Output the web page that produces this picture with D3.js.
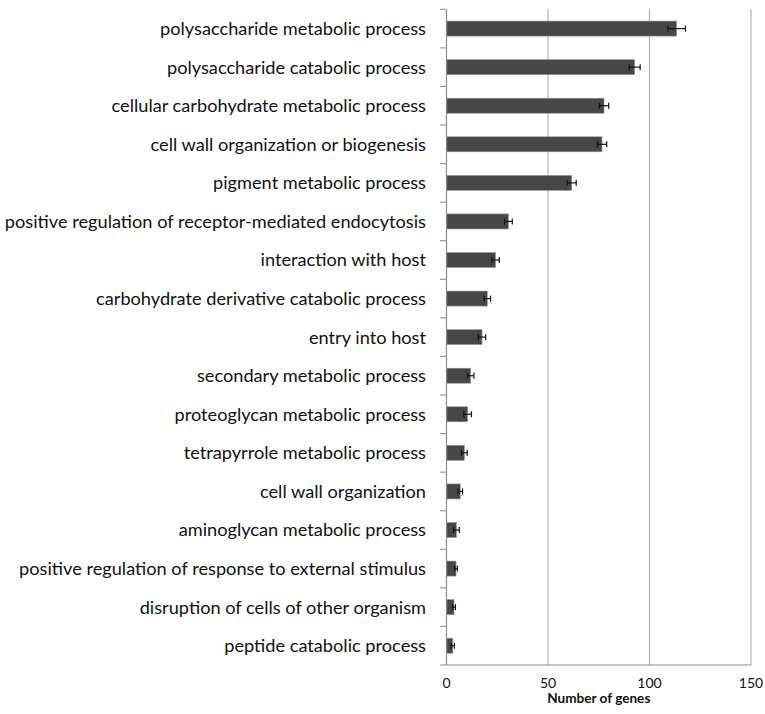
<!DOCTYPE html>
<html><head><meta charset="utf-8">
<script src="https://cdn.jsdelivr.net/npm/d3@7/dist/d3.min.js"></script>
<style>body{margin:0;background:#fff}</style>
</head><body>
<script>
const categories = [
  "polysaccharide metabolic process",
  "polysaccharide catabolic process",
  "cellular carbohydrate metabolic process",
  "cell wall organization or biogenesis",
  "pigment metabolic process",
  "positive regulation of receptor-mediated endocytosis",
  "interaction with host",
  "carbohydrate derivative catabolic process",
  "entry into host",
  "secondary metabolic process",
  "proteoglycan metabolic process",
  "tetrapyrrole metabolic process",
  "cell wall organization",
  "aminoglycan metabolic process",
  "positive regulation of response to external stimulus",
  "disruption of cells of other organism",
  "peptide catabolic process"
];
const values = [113.4, 92.7, 77.6, 76.6, 61.7, 30.5, 24.2, 20.1, 17.5, 11.9, 10.4, 8.8, 6.8, 4.9, 4.7, 3.7, 3.1];
const errors = [4.3, 2.7, 2.3, 2.3, 2.2, 1.9, 1.8, 1.6, 1.8, 1.6, 1.9, 1.4, 1.1, 1.4, 0.7, 0.7, 0.8];
const xTicks = [0, 50, 100, 150];
const xTitle = "Number of genes";

const W = 765, H = 714;
const m = {left: 446.5, right: 14, top: 9.3, bottom: 49};
const svg = d3.select("body").append("svg").attr("width", W).attr("height", H);
const x = d3.scaleLinear().domain([0, 150]).range([m.left, W - m.right]);
const y = d3.scaleBand().domain(categories).range([m.top, H - m.bottom]).paddingInner(0.61).paddingOuter(0.305);
const yb = d3.scaleBand().domain(categories).range([m.top, H - m.bottom]);

// gridlines
svg.append("g").selectAll("line").data(xTicks.slice(1)).join("line")
  .attr("x1", d => x(d)).attr("x2", d => x(d))
  .attr("y1", m.top).attr("y2", H - m.bottom)
  .attr("stroke", "#b3b3b3").attr("stroke-width", 1.2);

// bars
svg.append("g").selectAll("rect").data(categories).join("rect")
  .attr("x", x(0)).attr("y", d => y(d))
  .attr("width", (d, i) => x(values[i]) - x(0))
  .attr("height", y.bandwidth())
  .attr("fill", "#474747").attr("stroke", "#9a9a9a").attr("stroke-width", 0.6);

// error bars
const eg = svg.append("g").attr("stroke", "#111").attr("stroke-width", 1.2);
categories.forEach((c, i) => {
  const cy = y(c) + y.bandwidth() / 2;
  const x1 = x(values[i] - errors[i]), x2 = x(values[i] + errors[i]);
  eg.append("line").attr("x1", x1).attr("x2", x2).attr("y1", cy).attr("y2", cy);
  eg.append("line").attr("x1", x1).attr("x2", x1).attr("y1", cy - 3).attr("y2", cy + 3);
  eg.append("line").attr("x1", x2).attr("x2", x2).attr("y1", cy - 3).attr("y2", cy + 3);
});

// left axis line and ticks at band boundaries
const boundaries = categories.map(c => yb(c)).concat([H - m.bottom]);
svg.append("line").attr("x1", x(0)).attr("x2", x(0)).attr("y1", m.top).attr("y2", H - m.bottom)
  .attr("stroke", "#8a8a8a").attr("stroke-width", 1.2);
svg.append("g").selectAll("line").data(boundaries).join("line")
  .attr("x1", x(0) - 6.5).attr("x2", x(0)).attr("y1", d => d).attr("y2", d => d)
  .attr("stroke", "#9a9a9a").attr("stroke-width", 1.2);
// bottom axis line
svg.append("line").attr("x1", x(0)).attr("x2", x(150)).attr("y1", H - m.bottom).attr("y2", H - m.bottom)
  .attr("stroke", "#8a8a8a").attr("stroke-width", 1.2);

// category labels
svg.append("g").selectAll("text").data(categories).join("text")
  .attr("x", 426).attr("y", d => yb(d) + yb.bandwidth() / 2)
  .attr("dy", "0.35em").attr("text-anchor", "end")
  .attr("font-family", "Lato, 'Open Sans', sans-serif").attr("font-size", 18.2)
  .attr("fill", "#111").text(d => d);

// x tick labels
svg.append("g").selectAll("text").data(xTicks).join("text")
  .attr("x", d => x(d)).attr("y", 683).attr("dy", "0.35em").attr("text-anchor", "middle")
  .attr("font-family", "Lato, 'Open Sans', sans-serif").attr("font-size", 14).attr("fill", "#111")
  .text(d => d);

svg.append("text").attr("x", (x(0) + x(150)) / 2).attr("y", 698).attr("dy", "0.35em")
  .attr("text-anchor", "middle").attr("font-family", "Lato, 'Open Sans', sans-serif")
  .attr("font-weight", "bold").attr("font-size", 13.6).attr("fill", "#111").text(xTitle);
</script>
</body></html>
